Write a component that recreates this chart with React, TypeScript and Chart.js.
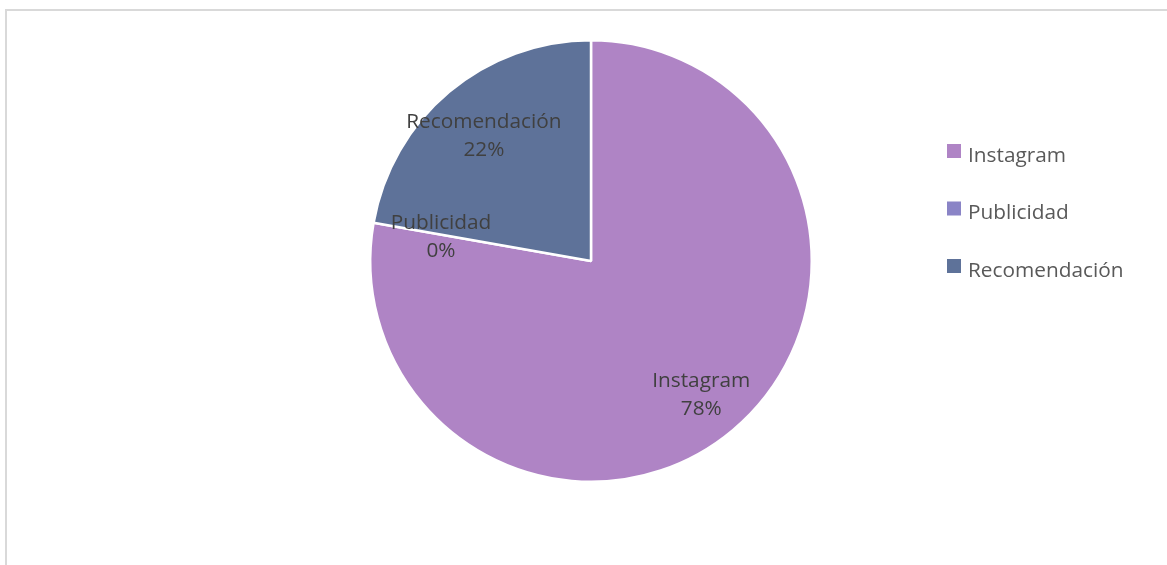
import React, { useEffect, useRef } from "react";
import { Chart, registerables } from "chart.js";

Chart.register(...registerables);

const categories = ["Instagram", "Publicidad", "Recomendación"];
const values = [35, 0, 10];
const colors = ["#AF84C5", "#8A84C6", "#5E7299"];

const FONT = "'Open Sans', sans-serif";
const FONT_SIZE = 20.8;

const labelPlugin = {
  id: "pieLabels",
  afterDatasetsDraw(chart: any) {
    const ctx = chart.ctx;
    const meta = chart.getDatasetMeta(0);
    const total = values.reduce((a, b) => a + b, 0);
    const factors = [0.777, 0.69, 0.755];
    ctx.save();
    ctx.font = `${FONT_SIZE}px ${FONT}`;
    ctx.fillStyle = "#404040";
    ctx.textAlign = "center";
    ctx.textBaseline = "middle";
    meta.data.forEach((arc: any, i: number) => {
      const { x, y, startAngle, endAngle, outerRadius } = arc.getProps(
        ["x", "y", "startAngle", "endAngle", "outerRadius"],
        true
      );
      const mid = (startAngle + endAngle) / 2;
      const r = outerRadius * factors[i];
      const cx = x + Math.cos(mid) * r;
      const cy = y + Math.sin(mid) * r + 3;
      const pct = Math.round((values[i] / total) * 100) + "%";
      ctx.fillText(categories[i], cx, cy - 14);
      ctx.fillText(pct, cx, cy + 14);
    });
    ctx.restore();
  },
};

const legendPlugin = {
  id: "customLegend",
  afterDraw(chart: any) {
    const ctx = chart.ctx;
    ctx.save();
    ctx.font = `${FONT_SIZE}px ${FONT}`;
    ctx.textAlign = "left";
    ctx.textBaseline = "middle";
    categories.forEach((c, i) => {
      const cy = 156 + i * 57.5;
      ctx.fillStyle = colors[i];
      ctx.fillRect(947, cy - 12, 14, 14);
      ctx.fillStyle = "#595959";
      ctx.fillText(c, 968, cy);
    });
    ctx.restore();
  },
};

export default function App() {
  const ref = useRef<HTMLCanvasElement>(null);
  useEffect(() => {
    if (!ref.current) return;
    const chart = new Chart(ref.current, {
      type: "pie",
      data: {
        labels: categories,
        datasets: [
          {
            data: values,
            backgroundColor: colors,
            borderColor: "#ffffff",
            borderWidth: 2.5,
          },
        ],
      },
      options: {
        animation: false,
        responsive: false,
        maintainAspectRatio: false,
        layout: { padding: { left: 369, right: 354, top: 39, bottom: 82 } },
        plugins: {
          legend: { display: false },
          tooltip: { enabled: false },
        },
      },
      plugins: [labelPlugin, legendPlugin],
    });
    return () => chart.destroy();
  }, []);
  return (
    <div
      style={{
        position: "fixed",
        left: 0,
        top: 0,
        width: 1167,
        height: 565,
        background: "#ffffff",
        overflow: "hidden",
      }}
    >
      <div
        style={{
          position: "absolute",
          left: 5,
          top: 9,
          width: 1200,
          height: 600,
          border: "2px solid #d9d9d9",
          boxSizing: "border-box",
        }}
      />
      <canvas
        ref={ref}
        width={1167}
        height={565}
        style={{ position: "absolute", left: 0, top: 0, width: 1167, height: 565 }}
      />
    </div>
  );
}
